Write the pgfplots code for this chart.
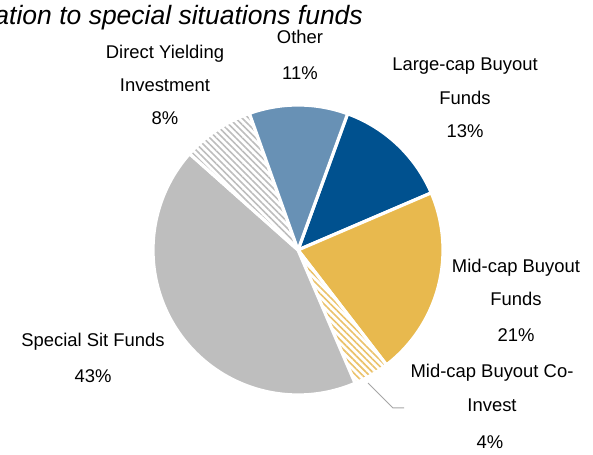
\documentclass[border=0pt]{standalone}
\usepackage{fontspec}
\setmainfont{Liberation Sans}
\usepackage{pgfplots}
\usepackage{pgfplotstable}
\pgfplotsset{compat=1.18}
\usetikzlibrary{patterns.meta}
\definecolor{cOther}{HTML}{6891B5}
\definecolor{cLarge}{HTML}{00518F}
\definecolor{cMid}{HTML}{E8B94E}
\definecolor{cSpec}{HTML}{BEBEBE}
\definecolor{hGray}{HTML}{BDBDBD}
\definecolor{hGold}{HTML}{EBC26A}
\pgfplotstableread{
label pct
LargeCap 13
MidCap 21
CoInvest 4
SpecialSit 43
Direct 8
Other 11
}\piedata
\newcommand\slice[3]{\addplot[#3, draw=white, line width=3.2bp, line join=round, domain=#2:#1, samples=90]
  ({298+145*cos(x)},{205+145*sin(x)}) -- (axis cs:298,205) -- cycle;}
\begin{document}
\begin{tikzpicture}
\pgfplotstablegetelem{0}{pct}\of\piedata \let\pA\pgfplotsretval
\pgfplotstablegetelem{1}{pct}\of\piedata \let\pB\pgfplotsretval
\pgfplotstablegetelem{2}{pct}\of\piedata \let\pC\pgfplotsretval
\pgfplotstablegetelem{3}{pct}\of\piedata \let\pD\pgfplotsretval
\pgfplotstablegetelem{4}{pct}\of\piedata \let\pE\pgfplotsretval
\pgfplotstablegetelem{5}{pct}\of\piedata \let\pF\pgfplotsretval
\pgfmathsetmacro\sA{70}
\pgfmathsetmacro\sB{\sA-3.6*\pA}
\pgfmathsetmacro\sC{\sB-3.6*\pB}
\pgfmathsetmacro\sD{\sC-3.6*\pC}
\pgfmathsetmacro\sE{\sD-3.6*\pD}
\pgfmathsetmacro\sF{\sE-3.6*\pE}
\pgfmathsetmacro\sG{\sF-3.6*\pF}
\begin{axis}[at={(0,0)}, anchor=south west, scale only axis, width=593bp, height=455bp,
  xmin=0, xmax=593, ymin=0, ymax=455, hide axis, clip=false]
\slice{\sA}{\sB}{fill=cLarge}
\slice{\sB}{\sC}{fill=cMid}
\slice{\sC}{\sD}{pattern={Lines[angle=-45,distance=4.6bp,line width=1.6bp]}, pattern color=hGold}
\slice{\sD}{\sE}{fill=cSpec}
\slice{\sE}{\sF}{pattern={Lines[angle=-45,distance=4.6bp,line width=1.6bp]}, pattern color=hGray}
\slice{\sF}{\sG}{fill=cOther}
\addplot[color=black!35, line width=1bp] coordinates {(368,72) (393,47) (404,47)};
\tikzset{lab/.style={anchor=base, font=\fontsize{18.5}{22}\selectfont, inner sep=0pt}}
\node[lab] at (axis cs:165,396) {Direct Yielding};
\node[lab] at (axis cs:165,363) {Investment};
\node[lab] at (axis cs:165,330) {8\%};
\node[lab] at (axis cs:300,411) {Other};
\node[lab] at (axis cs:300,375) {11\%};
\node[lab] at (axis cs:465,384) {Large-cap Buyout};
\node[lab] at (axis cs:465,350) {Funds};
\node[lab] at (axis cs:465,317) {13\%};
\node[lab] at (axis cs:516,182) {Mid-cap Buyout};
\node[lab] at (axis cs:516,149) {Funds};
\node[lab] at (axis cs:516,113) {21\%};
\node[lab] at (axis cs:492,77) {Mid-cap Buyout Co-};
\node[lab] at (axis cs:492,43) {Invest};
\node[lab] at (axis cs:490,7) {4\%};
\node[lab] at (axis cs:93,108) {Special Sit Funds};
\node[lab] at (axis cs:93,72) {43\%};
\node[anchor=base east, inner sep=0pt, font=\fontsize{26.6}{30}\selectfont\itshape] at (axis cs:363,430) {Allocation to special situations funds};
\end{axis}
\pgfresetboundingbox
\path[use as bounding box] (current axis.south west) rectangle (current axis.north east);
\end{tikzpicture}
\end{document}
